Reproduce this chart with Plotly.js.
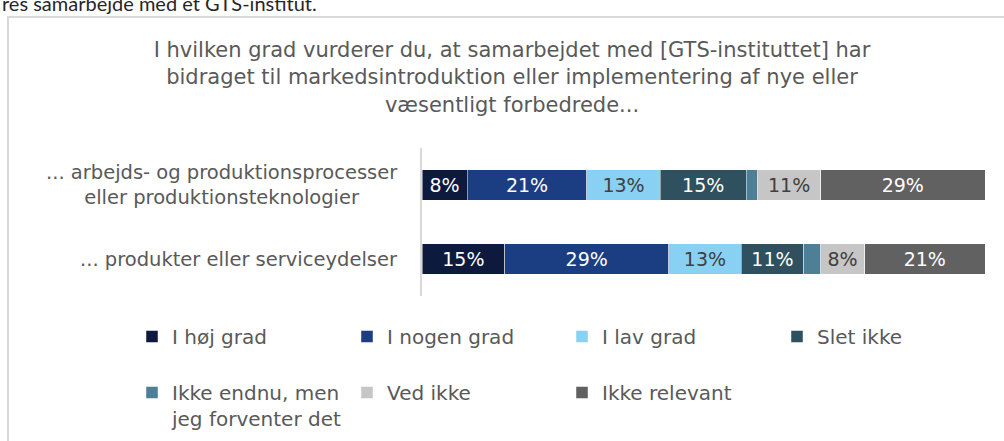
<!DOCTYPE html>
<html>
<head>
<meta charset="utf-8">
<script src="https://cdn.plot.ly/plotly-3.0.1.min.js"></script>
<style>html,body{margin:0;padding:0;background:#fff;}#chart{width:1004px;height:441px;}</style>
</head>
<body>
<div id="chart"></div>
<script>
// ---- data ----
const categories = [
  '... arbejds- og produktionsprocesser<br>eller produktionsteknologier',
  '... produkter eller serviceydelser'
];
const seriesNames = [
  'I høj grad', 'I nogen grad', 'I lav grad', 'Slet ikke',
  'Ikke endnu, men<br>jeg forventer det', 'Ved ikke', 'Ikke relevant'
];
const hoejGrad      = [8.0, 14.7];
const nogenGrad     = [21.3, 29.1];
const lavGrad       = [13.0, 12.9];
const sletIkke      = [15.3, 11.1];
const ikkeEndnu     = [2.0, 3.0];
const vedIkke       = [11.2, 7.8];
const ikkeRelevant  = [29.2, 21.4];
const seriesValues = [hoejGrad, nogenGrad, lavGrad, sletIkke, ikkeEndnu, vedIkke, ikkeRelevant];

const titleText = 'I hvilken grad vurderer du, at samarbejdet med [GTS-instituttet] har<br>bidraget til markedsintroduktion eller implementering af nye eller<br>væsentligt forbedrede...';
const topText = 'res samarbejde med et GTS-institut.';

// ---- styles ----
const colors = ['#0D1A3D', '#1B3D82', '#89D1F2', '#2F505E', '#4F7F97', '#C6C6C6', '#616161'];
const textColors = ['#ffffff', '#ffffff', '#404040', '#ffffff', '#ffffff', '#404040', '#ffffff'];
const FONT = '"DejaVu Sans", sans-serif';
const GREY = '#595959';

const traces = seriesNames.map((name, i) => ({
  type: 'bar',
  orientation: 'h',
  name: name,
  y: categories,
  x: seriesValues[i],
  text: seriesValues[i].map(v => v >= 5 ? Math.round(v) + '%' : ''),
  textposition: 'inside',
  insidetextanchor: 'middle',
  constraintext: 'none',
  textangle: 0,
  insidetextfont: {family: FONT, size: 19, color: textColors[i]},
  hoverinfo: 'skip',
  marker: {color: colors[i], line: {color: 'rgba(255,255,255,0.6)', width: 0.8}},
  legend: i < 4 ? 'legend' : 'legend2'
}));

// pixel helpers for paper coords of plot area (l=422, r=985, t=148, b=296)
const PL = 422, PR = 985, PT = 148, PB = 296;
const px = x => (x - PL) / (PR - PL);
const py = y => (PB - y) / (PB - PT);

const annotations = categories.map(c => ({
  xref: 'paper', yref: 'y', x: px(400), y: c, xanchor: 'right', yanchor: 'middle',
  text: c, showarrow: false, align: 'center',
  font: {family: FONT, size: 19.5, color: GREY}
}));
annotations.push({
  xref: 'paper', yref: 'paper', x: px(0), y: py(17), xanchor: 'left', yanchor: 'bottom',
  text: topText, showarrow: false, align: 'left',
  font: {family: 'Lato, sans-serif', size: 20, color: '#262626'}
});

const legendCommon = {
  orientation: 'h', xanchor: 'left', yanchor: 'top',
  entrywidth: 170, entrywidthmode: 'pixels', traceorder: 'normal',
  font: {family: FONT, size: 20, color: GREY}, itemwidth: 30, valign: 'top',
  bgcolor: 'rgba(0,0,0,0)'
};

const layout = {
  width: 1004, height: 441,
  margin: {l: PL, r: 1004 - PR, t: PT, b: 441 - PB, pad: 0, autoexpand: false},
  paper_bgcolor: '#ffffff', plot_bgcolor: '#ffffff',
  barmode: 'stack',
  bargap: 0.59,
  font: {family: FONT, color: GREY},
  title: {
    text: titleText,
    font: {family: FONT, size: 21, color: GREY},
    xref: 'container', x: 512 / 1004, xanchor: 'center',
    yref: 'container', y: 1 - 57 / 441, yanchor: 'top'
  },
  xaxis: {range: [0, 100], visible: false, fixedrange: true},
  yaxis: {
    autorange: 'reversed', showticklabels: false, ticks: '',
    showline: true, linecolor: '#D9D9D9', linewidth: 2, showgrid: false, zeroline: false
  },
  showlegend: true,
  legend: Object.assign({}, legendCommon, {x: px(132), y: py(317)}),
  legend2: Object.assign({}, legendCommon, {x: px(132), y: py(373)}),
  annotations: annotations,
  shapes: [{
    type: 'rect', xref: 'paper', yref: 'paper', layer: 'below',
    x0: px(8), x1: px(1010), y0: py(17), y1: py(450),
    line: {color: '#D9D9D9', width: 2}, fillcolor: 'rgba(0,0,0,0)'
  }]
};

Plotly.newPlot('chart', traces, layout, {staticPlot: true, displayModeBar: false});
</script>
</body>
</html>
